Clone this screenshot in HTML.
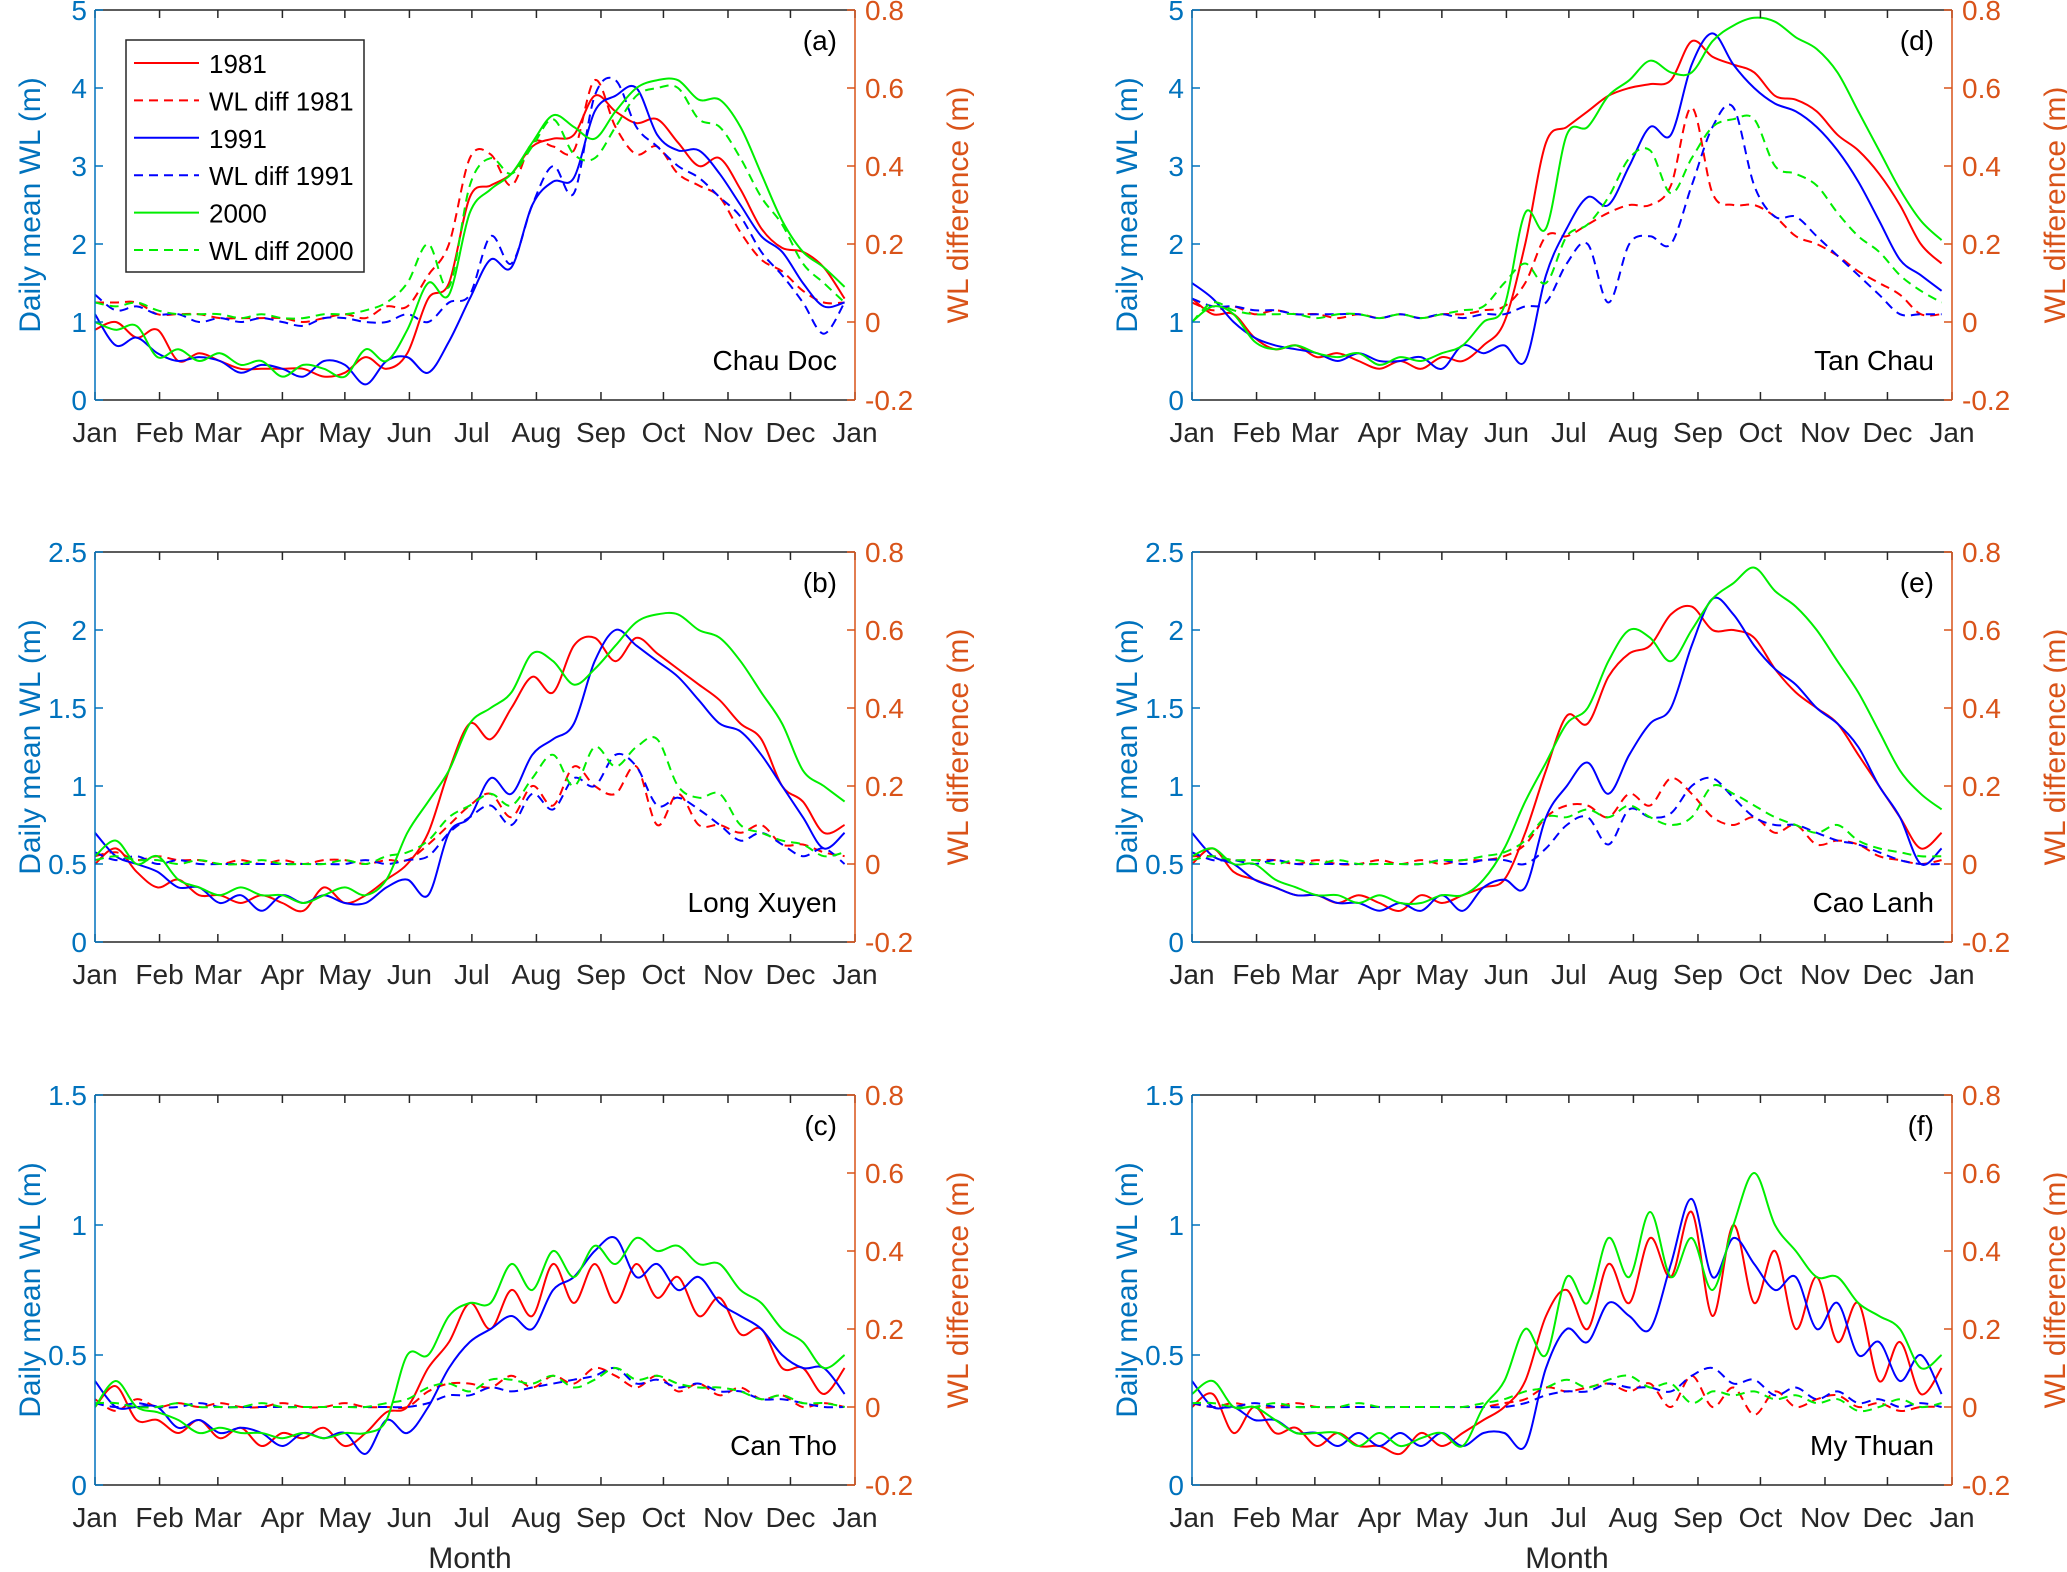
<!DOCTYPE html>
<html><head><meta charset="utf-8"><style>
html,body{margin:0;padding:0;background:#fff;}
svg{display:block;font-family:"Liberation Sans",Arial,sans-serif;}
</style></head>
<body>
<svg id="chart" width="2067" height="1572" viewBox="0 0 2067 1572" xmlns="http://www.w3.org/2000/svg"></svg>
<script>
const days = [0,10,20,30,40,50,60,70,80,90,100,110,120,130,140,150,160,170,180,190,200,210,220,230,240,250,260,270,280,290,300,310,320,330,340,350,360];
const monthLabels = ["Jan","Feb","Mar","Apr","May","Jun","Jul","Aug","Sep","Oct","Nov","Dec","Jan"];
const monthDays = [0,31,59,90,120,151,181,212,243,273,304,334,365];
const rightTicks = [-0.2,0,0.2,0.4,0.6,0.8];
const ticksA = [0,1,2,3,4,5];
const ticksB = [0,0.5,1,1.5,2,2.5];
const ticksC = [0,0.5,1,1.5];
const stations = ["Chau Doc","Long Xuyen","Can Tho","Tan Chau","Cao Lanh","My Thuan"];
const panelLetters = ["(a)","(b)","(c)","(d)","(e)","(f)"];

// Panel (a) Chau Doc
const a1981 = [0.9,1.0,0.8,0.9,0.5,0.6,0.5,0.4,0.4,0.4,0.4,0.3,0.35,0.55,0.4,0.6,1.3,1.5,2.6,2.75,2.9,3.25,3.35,3.4,3.9,3.7,3.55,3.6,3.3,3.0,3.1,2.7,2.2,1.95,1.9,1.7,1.3];
const a1991 = [1.1,0.7,0.8,0.6,0.5,0.55,0.5,0.35,0.45,0.4,0.3,0.5,0.45,0.2,0.5,0.55,0.35,0.75,1.3,1.8,1.7,2.5,2.8,2.85,3.7,3.9,4.0,3.4,3.2,3.2,2.9,2.5,2.1,1.9,1.5,1.2,1.25];
const a2000 = [1.0,0.9,0.95,0.55,0.65,0.5,0.6,0.45,0.5,0.3,0.45,0.4,0.3,0.65,0.5,0.9,1.5,1.35,2.4,2.7,2.9,3.3,3.65,3.5,3.35,3.7,4.0,4.1,4.1,3.85,3.85,3.5,2.9,2.3,1.9,1.7,1.45];
const aD1981 = [0.05,0.05,0.05,0.02,0.02,0.02,0.01,0.01,0.01,0.01,0.0,0.01,0.02,0.01,0.04,0.04,0.12,0.2,0.42,0.43,0.35,0.46,0.45,0.44,0.62,0.5,0.43,0.45,0.38,0.35,0.32,0.23,0.16,0.13,0.08,0.05,0.05];
const aD1991 = [0.07,0.03,0.04,0.02,0.02,0.0,0.01,0.0,0.01,0.0,-0.01,0.01,0.01,0.0,0.0,0.02,0.0,0.05,0.07,0.22,0.15,0.3,0.4,0.33,0.58,0.62,0.5,0.45,0.4,0.37,0.32,0.27,0.18,0.12,0.05,-0.03,0.05];
const aD2000 = [0.05,0.04,0.05,0.03,0.02,0.02,0.02,0.01,0.02,0.01,0.01,0.02,0.02,0.03,0.05,0.1,0.2,0.09,0.35,0.42,0.38,0.45,0.52,0.43,0.42,0.5,0.58,0.6,0.6,0.52,0.5,0.42,0.32,0.25,0.15,0.1,0.05];

// Panel (b) Long Xuyen
const b1981 = [0.5,0.6,0.45,0.35,0.4,0.3,0.3,0.25,0.3,0.25,0.2,0.35,0.25,0.3,0.4,0.5,0.7,1.1,1.4,1.3,1.5,1.7,1.6,1.9,1.95,1.8,1.95,1.85,1.75,1.65,1.55,1.4,1.3,1.0,0.9,0.7,0.75];
const b1991 = [0.7,0.55,0.5,0.45,0.35,0.35,0.25,0.3,0.2,0.3,0.25,0.3,0.25,0.25,0.35,0.4,0.3,0.7,0.8,1.05,0.95,1.2,1.3,1.4,1.8,2.0,1.9,1.8,1.7,1.55,1.4,1.35,1.2,1.0,0.8,0.6,0.7];
const b2000 = [0.55,0.65,0.5,0.55,0.4,0.35,0.3,0.35,0.3,0.3,0.25,0.3,0.35,0.3,0.4,0.7,0.9,1.1,1.4,1.5,1.6,1.85,1.8,1.65,1.75,1.9,2.05,2.1,2.1,2.0,1.95,1.8,1.6,1.4,1.1,1.0,0.9];
const bD1981 = [0.02,0.03,0.01,0.02,0.01,0.01,0.0,0.01,0.0,0.01,0.0,0.01,0.01,0.0,0.01,0.01,0.05,0.1,0.15,0.18,0.12,0.2,0.15,0.25,0.2,0.18,0.25,0.1,0.18,0.1,0.1,0.08,0.1,0.05,0.05,0.03,0.02];
const bD1991 = [0.03,0.01,0.02,0.0,0.01,0.0,0.0,0.0,0.0,0.0,0.0,0.0,0.0,0.01,0.0,0.01,0.02,0.08,0.12,0.15,0.1,0.18,0.14,0.22,0.2,0.28,0.25,0.15,0.17,0.14,0.1,0.06,0.08,0.05,0.02,0.04,0.0];
const bD2000 = [0.01,0.02,0.01,0.01,0.0,0.01,0.0,0.0,0.01,0.0,0.0,0.0,0.01,0.0,0.02,0.03,0.06,0.12,0.15,0.18,0.15,0.22,0.28,0.2,0.3,0.25,0.3,0.32,0.2,0.17,0.18,0.1,0.08,0.06,0.05,0.02,0.03];

// Panel (c) Can Tho
const c1981 = [0.3,0.38,0.25,0.25,0.2,0.25,0.18,0.22,0.15,0.2,0.18,0.22,0.15,0.2,0.28,0.3,0.45,0.55,0.7,0.6,0.75,0.65,0.85,0.7,0.85,0.7,0.85,0.72,0.8,0.65,0.72,0.58,0.6,0.45,0.45,0.35,0.45];
const c1991 = [0.4,0.3,0.3,0.3,0.22,0.25,0.2,0.22,0.2,0.15,0.2,0.18,0.2,0.12,0.25,0.2,0.3,0.45,0.55,0.6,0.65,0.6,0.75,0.8,0.9,0.95,0.8,0.85,0.75,0.8,0.7,0.65,0.6,0.5,0.45,0.45,0.35];
const c2000 = [0.3,0.4,0.3,0.28,0.25,0.2,0.22,0.2,0.2,0.18,0.2,0.18,0.2,0.2,0.25,0.5,0.5,0.65,0.7,0.7,0.85,0.75,0.9,0.8,0.92,0.85,0.95,0.9,0.92,0.85,0.85,0.75,0.7,0.6,0.55,0.45,0.5];
const cD1981 = [0.02,-0.01,0.02,0.0,0.01,0.0,0.01,0.0,0.0,0.01,0.0,0.0,0.01,0.0,0.0,0.0,0.04,0.06,0.06,0.05,0.08,0.05,0.08,0.06,0.1,0.08,0.05,0.08,0.04,0.06,0.03,0.05,0.02,0.03,0.0,0.01,0.0];
const cD1991 = [0.01,0.0,0.01,0.0,0.0,0.01,0.0,0.0,0.0,0.0,0.0,0.0,0.0,0.0,0.0,0.0,0.01,0.03,0.03,0.05,0.04,0.05,0.06,0.07,0.08,0.1,0.06,0.07,0.05,0.06,0.04,0.04,0.02,0.02,0.01,0.0,0.0];
const cD2000 = [0.01,0.01,0.0,0.0,0.01,0.0,0.0,0.0,0.01,0.0,0.0,0.0,0.0,0.0,0.01,0.02,0.05,0.06,0.04,0.07,0.07,0.06,0.08,0.05,0.07,0.1,0.07,0.08,0.06,0.05,0.05,0.04,0.02,0.03,0.01,0.01,0.0];

// Panel (d) Tan Chau
const d1981 = [1.3,1.1,1.1,0.8,0.65,0.7,0.55,0.6,0.5,0.4,0.5,0.4,0.55,0.5,0.7,1.0,2.0,3.3,3.5,3.7,3.9,4.0,4.05,4.1,4.6,4.4,4.3,4.2,3.9,3.85,3.7,3.4,3.2,2.9,2.5,2.0,1.75];
const d1991 = [1.5,1.3,1.0,0.8,0.7,0.65,0.6,0.5,0.6,0.5,0.5,0.55,0.4,0.7,0.6,0.7,0.5,1.6,2.2,2.6,2.5,3.0,3.5,3.4,4.3,4.7,4.3,4.0,3.8,3.7,3.5,3.2,2.8,2.3,1.8,1.6,1.4];
const d2000 = [1.0,1.2,1.1,0.75,0.65,0.7,0.6,0.55,0.6,0.45,0.55,0.5,0.6,0.7,1.0,1.2,2.4,2.2,3.4,3.5,3.9,4.1,4.35,4.2,4.2,4.6,4.8,4.9,4.85,4.65,4.5,4.2,3.7,3.2,2.7,2.3,2.05];
const dD1981 = [0.05,0.03,0.04,0.02,0.03,0.02,0.02,0.01,0.02,0.01,0.02,0.01,0.02,0.02,0.03,0.04,0.1,0.22,0.22,0.25,0.28,0.3,0.3,0.35,0.55,0.33,0.3,0.3,0.27,0.22,0.2,0.17,0.13,0.1,0.07,0.02,0.02];
const dD1991 = [0.06,0.04,0.04,0.03,0.03,0.02,0.02,0.02,0.02,0.01,0.02,0.01,0.02,0.01,0.02,0.02,0.04,0.05,0.15,0.2,0.05,0.2,0.22,0.2,0.35,0.5,0.55,0.35,0.27,0.27,0.22,0.17,0.12,0.07,0.02,0.02,0.02];
const dD2000 = [0.0,0.05,0.03,0.02,0.02,0.02,0.01,0.02,0.02,0.01,0.02,0.01,0.02,0.03,0.04,0.1,0.15,0.1,0.22,0.25,0.32,0.42,0.44,0.33,0.42,0.5,0.52,0.52,0.4,0.38,0.35,0.28,0.22,0.18,0.12,0.08,0.05];

// Panel (e) Cao Lanh
const e1981 = [0.5,0.6,0.45,0.4,0.35,0.3,0.3,0.25,0.3,0.25,0.2,0.3,0.25,0.3,0.35,0.4,0.7,1.1,1.45,1.4,1.7,1.85,1.9,2.1,2.15,2.0,2.0,1.95,1.75,1.6,1.5,1.4,1.2,1.0,0.8,0.6,0.7];
const e1991 = [0.7,0.55,0.5,0.4,0.35,0.3,0.3,0.25,0.25,0.2,0.25,0.2,0.3,0.2,0.35,0.4,0.35,0.8,1.0,1.15,0.95,1.2,1.4,1.5,1.9,2.2,2.1,1.9,1.75,1.65,1.5,1.4,1.25,1.0,0.8,0.5,0.6];
const e2000 = [0.55,0.6,0.5,0.5,0.4,0.35,0.3,0.3,0.25,0.3,0.25,0.25,0.3,0.3,0.4,0.6,0.9,1.15,1.4,1.5,1.8,2.0,1.95,1.8,2.0,2.2,2.3,2.4,2.25,2.15,2.0,1.8,1.6,1.35,1.1,0.95,0.85];
const eD1981 = [0.02,0.02,0.01,0.01,0.01,0.0,0.01,0.0,0.0,0.01,0.0,0.01,0.0,0.01,0.01,0.02,0.05,0.12,0.15,0.15,0.12,0.18,0.15,0.22,0.18,0.12,0.1,0.12,0.08,0.1,0.05,0.06,0.05,0.02,0.01,0.0,0.01];
const eD1991 = [0.03,0.01,0.01,0.0,0.01,0.0,0.0,0.0,0.0,0.0,0.0,0.0,0.01,0.0,0.01,0.01,0.0,0.04,0.1,0.12,0.05,0.14,0.12,0.13,0.2,0.22,0.17,0.12,0.1,0.1,0.08,0.06,0.05,0.03,0.01,0.0,0.0];
const eD2000 = [0.01,0.02,0.01,0.01,0.0,0.01,0.0,0.01,0.0,0.0,0.0,0.0,0.01,0.01,0.02,0.03,0.06,0.12,0.12,0.14,0.12,0.15,0.12,0.1,0.12,0.2,0.18,0.15,0.12,0.1,0.08,0.1,0.06,0.04,0.03,0.02,0.02];

// Panel (f) My Thuan
const f1981 = [0.3,0.35,0.2,0.3,0.2,0.22,0.15,0.2,0.15,0.15,0.12,0.2,0.15,0.2,0.25,0.3,0.4,0.65,0.75,0.6,0.85,0.7,0.95,0.8,1.05,0.65,1.0,0.7,0.9,0.6,0.8,0.55,0.7,0.4,0.55,0.35,0.45];
const f1991 = [0.4,0.3,0.3,0.25,0.25,0.2,0.2,0.15,0.2,0.15,0.2,0.15,0.2,0.15,0.2,0.2,0.15,0.45,0.6,0.55,0.7,0.65,0.6,0.85,1.1,0.8,0.95,0.85,0.75,0.8,0.6,0.7,0.5,0.55,0.4,0.5,0.35];
const f2000 = [0.35,0.4,0.3,0.3,0.25,0.2,0.2,0.2,0.15,0.2,0.15,0.18,0.2,0.15,0.3,0.4,0.6,0.5,0.8,0.7,0.95,0.8,1.05,0.8,0.95,0.75,1.0,1.2,1.0,0.9,0.8,0.8,0.7,0.65,0.6,0.45,0.5];
const fD1981 = [0.01,0.0,0.01,0.0,0.0,0.01,0.0,0.0,0.0,0.0,0.0,0.0,0.0,0.0,0.0,0.01,0.02,0.05,0.04,0.05,0.06,0.04,0.06,0.0,0.08,0.0,0.05,-0.02,0.04,0.0,0.02,0.03,0.0,0.01,-0.01,0.0,0.0];
const fD1991 = [0.01,0.0,0.0,0.01,0.0,0.0,0.0,0.0,0.0,0.0,0.0,0.0,0.0,0.0,0.0,0.0,0.01,0.03,0.04,0.04,0.06,0.05,0.05,0.04,0.08,0.1,0.06,0.07,0.03,0.05,0.02,0.04,0.01,0.02,0.0,0.01,0.0];
const fD2000 = [0.01,0.01,0.0,0.0,0.01,0.0,0.0,0.0,0.01,0.0,0.0,0.0,0.0,0.0,0.01,0.02,0.04,0.05,0.07,0.05,0.07,0.08,0.05,0.06,0.01,0.04,0.03,0.04,0.02,0.03,0.01,0.02,-0.01,0.0,0.02,0.0,0.01];

const NS = "http://www.w3.org/2000/svg";
const svg = document.getElementById("chart");
const BLUE = "#0072BD", ORANGE = "#D95319", DARK = "#262626";

function mk(tag, attrs, parent) {
  const e = document.createElementNS(NS, tag);
  for (const k in attrs) e.setAttribute(k, attrs[k]);
  (parent || svg).appendChild(e);
  return e;
}
function smoothPath(pts) {
  let d = "M" + pts[0][0].toFixed(1) + "," + pts[0][1].toFixed(1);
  for (let i = 0; i < pts.length - 1; i++) {
    const p0 = pts[Math.max(0, i - 1)], p1 = pts[i], p2 = pts[i + 1], p3 = pts[Math.min(pts.length - 1, i + 2)];
    const c1x = p1[0] + (p2[0] - p0[0]) / 6, c1y = p1[1] + (p2[1] - p0[1]) / 6;
    const c2x = p2[0] - (p3[0] - p1[0]) / 6, c2y = p2[1] - (p3[1] - p1[1]) / 6;
    d += " C" + c1x.toFixed(1) + "," + c1y.toFixed(1) + " " + c2x.toFixed(1) + "," + c2y.toFixed(1) + " " + p2[0].toFixed(1) + "," + p2[1].toFixed(1);
  }
  return d;
}

const panels = [
  {x0:95, x1:855, y0:10, y1:400, yMax:5, ticks:ticksA, s:[a1981,aD1981,a1991,aD1991,a2000,aD2000], legend:true},
  {x0:95, x1:855, y0:552, y1:942, yMax:2.5, ticks:ticksB, s:[b1981,bD1981,b1991,bD1991,b2000,bD2000]},
  {x0:95, x1:855, y0:1095, y1:1485, yMax:1.5, ticks:ticksC, s:[c1981,cD1981,c1991,cD1991,c2000,cD2000], month:true},
  {x0:1192, x1:1952, y0:10, y1:400, yMax:5, ticks:ticksA, s:[d1981,dD1981,d1991,dD1991,d2000,dD2000]},
  {x0:1192, x1:1952, y0:552, y1:942, yMax:2.5, ticks:ticksB, s:[e1981,eD1981,e1991,eD1991,e2000,eD2000]},
  {x0:1192, x1:1952, y0:1095, y1:1485, yMax:1.5, ticks:ticksC, s:[f1981,fD1981,f1991,fD1991,f2000,fD2000], month:true}
];
const seriesColors = ["#FF0000","#FF0000","#0000FF","#0000FF","#00EE00","#00EE00"];
const seriesNames = ["1981","WL diff 1981","1991","WL diff 1991","2000","WL diff 2000"];

panels.forEach((p, pi) => {
  const g = mk("g", {});
  
  
  const xS = d => p.x0 + d / 365 * (p.x1 - p.x0);
  const yL = v => p.y1 - v / p.yMax * (p.y1 - p.y0);
  const yR = v => p.y1 - (v + 0.2) / 1.0 * (p.y1 - p.y0);

  // clip
  const cid = "clip" + pi;
  const cp = mk("clipPath", {id: cid}, g);
  mk("rect", {x:p.x0, y:p.y0, width:p.x1 - p.x0, height:p.y1 - p.y0}, cp);

  // series
  const sg = mk("g", {"clip-path":"url(#" + cid + ")"}, g);
  p.s.forEach((arr, si) => {
    const isDiff = si % 2 === 1;
    const pts = days.map((d, i) => [xS(d), isDiff ? yR(arr[i]) : yL(arr[i])]);
    const path = mk("path", {d: smoothPath(pts), fill:"none", stroke: seriesColors[si], "stroke-width":2, "stroke-dasharray": isDiff ? "9,6" : "none"}, sg);
    
    
  });

  // axes
  const xa = mk("g", {}, g);
  
  
  mk("line", {x1:p.x0, y1:p.y1, x2:p.x1, y2:p.y1, stroke:DARK, "stroke-width":1.5}, xa);
  mk("line", {x1:p.x0, y1:p.y0, x2:p.x1, y2:p.y0, stroke:DARK, "stroke-width":1.5}, xa);
  monthDays.forEach((md, i) => {
    const x = xS(md);
    mk("line", {x1:x, y1:p.y1, x2:x, y2:p.y1 - 8, stroke:DARK, "stroke-width":1.5}, xa);
    mk("line", {x1:x, y1:p.y0, x2:x, y2:p.y0 + 8, stroke:DARK, "stroke-width":1.5}, xa);
    const t = mk("text", {x:x, y:p.y1 + 42, "text-anchor":"middle", "font-size":28, fill:"#262626"}, xa);
    t.textContent = monthLabels[i];
    
    
  });

  const la = mk("g", {}, g);
  
  
  mk("line", {x1:p.x0, y1:p.y0, x2:p.x0, y2:p.y1, stroke:BLUE, "stroke-width":1.5}, la);
  p.ticks.forEach(v => {
    const y = yL(v);
    mk("line", {x1:p.x0, y1:y, x2:p.x0 + 8, y2:y, stroke:BLUE, "stroke-width":1.5}, la);
    const t = mk("text", {x:p.x0 - 8, y:y + 10, "text-anchor":"end", "font-size":28, fill:BLUE}, la);
    t.textContent = String(v);
    
    
  });
  const ylab = mk("text", {x:0, y:0, "text-anchor":"middle", "font-size":30, fill:BLUE, transform:"translate(" + (p.x0 - 55) + "," + ((p.y0 + p.y1) / 2) + ") rotate(-90)"}, la);
  ylab.textContent = "Daily mean WL (m)";
  
  

  const ra = mk("g", {}, g);
  
  
  mk("line", {x1:p.x1, y1:p.y0, x2:p.x1, y2:p.y1, stroke:ORANGE, "stroke-width":1.5}, ra);
  rightTicks.forEach(v => {
    const y = yR(v);
    mk("line", {x1:p.x1, y1:y, x2:p.x1 - 8, y2:y, stroke:ORANGE, "stroke-width":1.5}, ra);
    const t = mk("text", {x:p.x1 + 10, y:y + 10, "text-anchor":"start", "font-size":28, fill:ORANGE}, ra);
    t.textContent = String(v);
    
    
  });
  const rlab = mk("text", {x:0, y:0, "text-anchor":"middle", "font-size":30, fill:ORANGE, transform:"translate(" + (p.x1 + 113) + "," + ((p.y0 + p.y1) / 2) + ") rotate(-90)"}, ra);
  rlab.textContent = "WL difference (m)";
  
  

  const st = mk("text", {x:p.x1 - 18, y:p.y1 - 30, "text-anchor":"end", "font-size":28, fill:"#000"}, g);
  st.textContent = stations[pi];
  
  
  const pl = mk("text", {x:p.x1 - 18, y:p.y0 + 40, "text-anchor":"end", "font-size":28, fill:"#000"}, g);
  pl.textContent = panelLetters[pi];
  
  

  if (p.month) {
    const m = mk("text", {x:(p.x0 + p.x1) / 2 - 5, y:1568, "text-anchor":"middle", "font-size":30, fill:"#262626"}, g);
    m.textContent = "Month";
    
    
  }

  if (p.legend) {
    const lg = mk("g", {}, g);
    
    
    mk("rect", {x:126, y:40, width:238, height:232, fill:"#fff", stroke:DARK, "stroke-width":1.5}, lg);
    seriesNames.forEach((n, i) => {
      const y = 63 + i * 37.4;
      const le = mk("g", {}, lg);
      
      
      mk("line", {x1:134, y1:y, x2:199, y2:y, stroke:seriesColors[i], "stroke-width":2, "stroke-dasharray": i % 2 ? "9,6" : "none"}, le);
      const t = mk("text", {x:209, y:y + 10, "font-size":26, fill:"#000"}, le);
      t.textContent = n;
    });
  }
});
</script>
</body></html>
